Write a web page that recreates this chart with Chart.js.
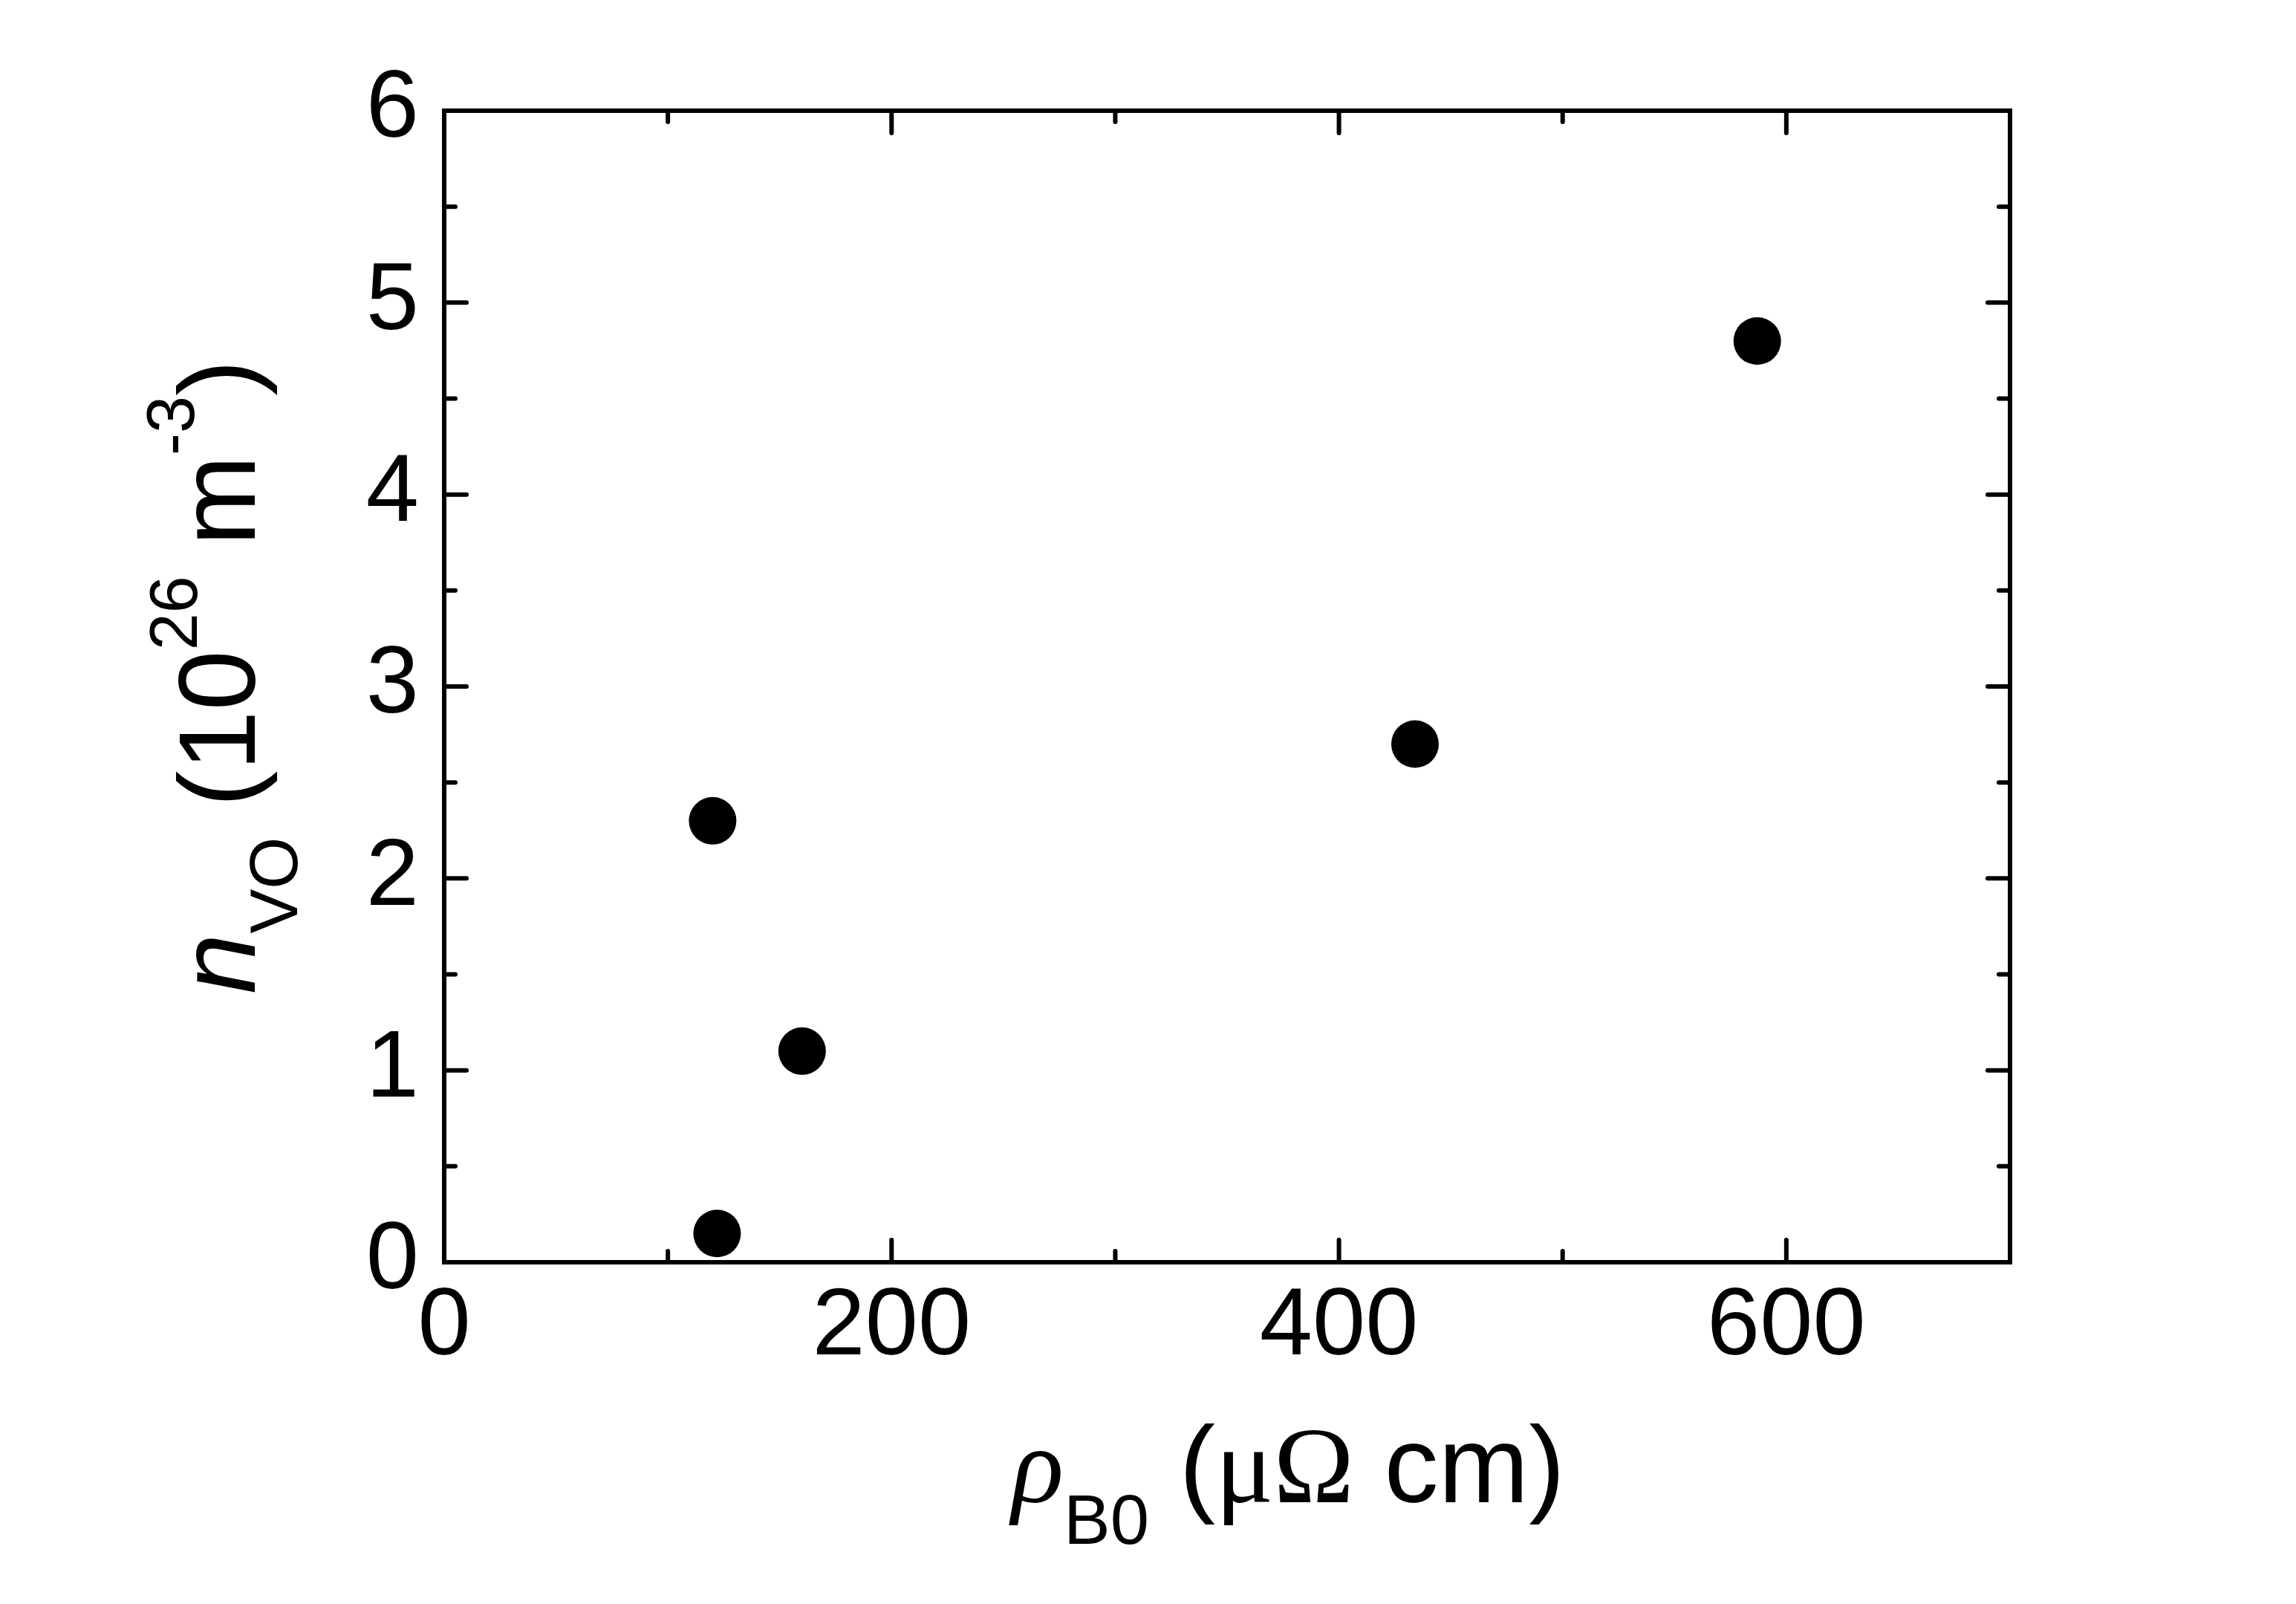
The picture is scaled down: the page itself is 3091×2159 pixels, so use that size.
<!DOCTYPE html>
<html>
<head>
<meta charset="utf-8">
<script src="https://cdn.jsdelivr.net/npm/chart.js@4/dist/chart.umd.min.js"></script>
<style>
  body { margin: 0; background: #fff; }
  #wrap { width: 3091px; height: 2159px; }
</style>
</head>
<body>
<div id="wrap"><canvas id="chart" width="3091" height="2159"></canvas></div>
<script>
// data
const rhoB0 = [120, 160, 122, 434, 587];       // µΩ cm
const nVO = [2.30, 1.10, 0.15, 2.70, 4.80];    // 10^26 m^-3
const xTickLabels = [0, 200, 400, 600];
const yTickLabels = [0, 1, 2, 3, 4, 5, 6];

const SANS = "Arial, 'Liberation Sans', sans-serif";
const SERIF = "'Times New Roman', 'Liberation Serif', serif";

// frame + inward ticks on all four sides
const framePlugin = {
    id: 'frame',
    afterDatasetsDraw(chart) {
        const { ctx, chartArea: a, scales } = chart;
        ctx.save();
        ctx.strokeStyle = '#000';
        ctx.lineWidth = 6;
        ctx.lineCap = 'round';
        ctx.beginPath();
        scales.x.ticks.forEach(t => {
            const px = scales.x.getPixelForValue(t.value);
            const len = xTickLabels.includes(t.value) ? 30 : 15;
            ctx.moveTo(px, a.bottom); ctx.lineTo(px, a.bottom - len);
            ctx.moveTo(px, a.top); ctx.lineTo(px, a.top + len);
        });
        scales.y.ticks.forEach(t => {
            const py = scales.y.getPixelForValue(t.value);
            const len = yTickLabels.includes(t.value) ? 30 : 15;
            ctx.moveTo(a.left, py); ctx.lineTo(a.left + len, py);
            ctx.moveTo(a.right, py); ctx.lineTo(a.right - len, py);
        });
        ctx.stroke();
        ctx.lineCap = 'butt';
        ctx.lineJoin = 'miter';
        ctx.strokeRect(a.left, a.top, a.right - a.left, a.bottom - a.top);
        ctx.restore();
    }
};

// draw a run of text pieces: [text, font, baselineShift]
function drawRuns(ctx, runs) {
    let x = 0;
    runs.forEach(([txt, font, dy]) => {
        ctx.font = font;
        ctx.fillText(txt, x, dy);
        x += ctx.measureText(txt).width;
    });
}

const titlePlugin = {
    id: 'titles',
    afterDraw(chart) {
        const ctx = chart.ctx;
        ctx.save();
        ctx.fillStyle = '#000';
        ctx.textBaseline = 'alphabetic';
        ctx.textAlign = 'left';

        // x axis title: ρB0 (μΩ cm)
        ctx.save();
        ctx.translate(1362, 2022);
        drawRuns(ctx, [
            ['ρ', 'italic 146px ' + SERIF, 0],
            ['B0', '94px ' + SANS, 56],
            [' (', '146px ' + SANS, 0],
            ['μΩ', '146px ' + SERIF, 0],
            [' cm)', '146px ' + SANS, 0]
        ]);
        ctx.restore();

        // y axis title: nVO (10^26 m^-3), rotated
        ctx.save();
        ctx.translate(343, 1338);
        ctx.rotate(-Math.PI / 2);
        drawRuns(ctx, [
            ['n', 'italic 146px ' + SANS, 0],
            ['VO', '90px ' + SANS, 57],
            [' (10', '146px ' + SANS, 0],
            ['26', '90px ' + SANS, -78],
            [' m', '146px ' + SANS, 0],
            ['-3', '90px ' + SANS, -82],
            [')', '146px ' + SANS, 0]
        ]);
        ctx.restore();
        ctx.restore();
    }
};

new Chart(document.getElementById('chart'), {
    type: 'scatter',
    data: {
        datasets: [{
            data: rhoB0.map((x, i) => ({ x: x, y: nVO[i] })),
            backgroundColor: '#000',
            borderColor: '#000',
            pointRadius: 32,
            pointHoverRadius: 32,
            borderWidth: 0
        }]
    },
    options: {
        responsive: false,
        animation: false,
        devicePixelRatio: 1,
        layout: { padding: { left: 0, top: 149, right: 385, bottom: 0 } },
        plugins: { legend: { display: false }, tooltip: { enabled: false } },
        scales: {
            x: {
                type: 'linear',
                min: 0, max: 700,
                grid: { display: false, drawTicks: false },
                border: { display: false },
                ticks: {
                    stepSize: 100,
                    autoSkip: false,
                    maxRotation: 0,
                    padding: 12,
                    color: '#000',
                    font: { family: SANS, size: 128 },
                    callback: v => xTickLabels.includes(v) ? String(v) : ''
                },
                afterFit(scale) { scale.height = 460; }
            },
            y: {
                type: 'linear',
                min: 0, max: 6,
                grid: { display: false, drawTicks: false },
                border: { display: false },
                ticks: {
                    stepSize: 0.5,
                    autoSkip: false,
                    padding: 34,
                    color: '#000',
                    font: { family: SANS, size: 128 },
                    callback: v => yTickLabels.includes(v) ? String(v) : ''
                },
                afterFit(scale) { scale.width = 598; }
            }
        }
    },
    plugins: [framePlugin, titlePlugin]
});
</script>
</body>
</html>
